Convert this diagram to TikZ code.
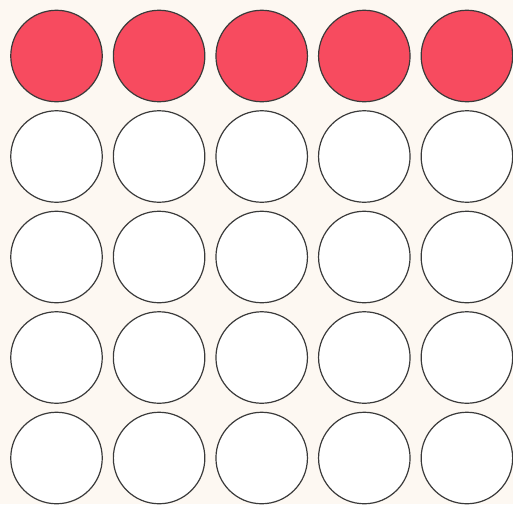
\documentclass[tikz,border=0pt]{standalone}
\definecolor{bg}{HTML}{FDF8F2}
\definecolor{redfill}{HTML}{F74B5F}
\definecolor{edge}{HTML}{3A3A3A}
\begin{document}
\begin{tikzpicture}[x=1pt,y=-1pt,
  dot/.style={circle,draw=edge,line width=1.2pt,minimum size=91.5pt,inner sep=0pt,fill=white},
  reddot/.style={dot,fill=redfill}]
\fill[bg] (0,0) rectangle (513,504);
\useasboundingbox (0,0) rectangle (513,504);
\foreach \c [count=\i] in {56.5,159.1,261.7,364.3,466.9}{
  \foreach \r [count=\j] in {56,156.5,257,357.5,458}{
    \ifnum\j=1
      \node[reddot] (n\i-\j) at (\c,\r) {};
    \else
      \node[dot] (n\i-\j) at (\c,\r) {};
    \fi
  }
}
\end{tikzpicture}
\end{document}
